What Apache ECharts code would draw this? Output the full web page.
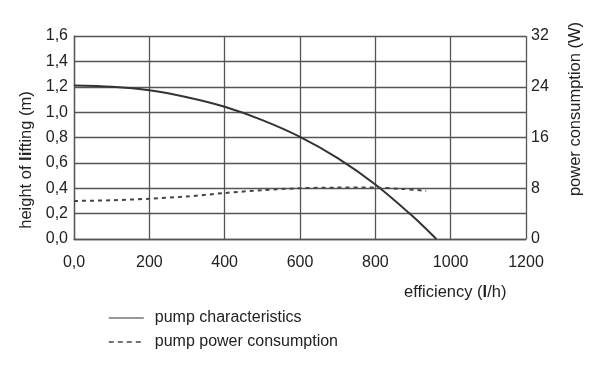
<!DOCTYPE html>
<html>
<head>
<meta charset="utf-8">
<script src="https://cdn.jsdelivr.net/npm/echarts@6/dist/echarts.min.js"></script>
<style>
  html, body { margin: 0; padding: 0; background: #fff; }
  #chart { width: 600px; height: 375px; }
</style>
</head>
<body>
<div id="chart"></div>
<script>
// pump curve (height, m)
var pumpFlow = [0, 100, 200, 300, 400, 500, 600, 700, 800, 900, 962];
var pumpHeight = [1.21, 1.20, 1.172, 1.117, 1.042, 0.937, 0.805, 0.638, 0.43, 0.177, 0];

// power consumption (W)
var powerFlow = [0, 100, 200, 300, 400, 500, 600, 700, 800, 870, 935];
var powerWatt = [6.0, 6.1, 6.35, 6.7, 7.25, 7.7, 8.0, 8.1, 8.1, 7.9, 7.6];

var seriesNames = ['pump characteristics', 'pump power consumption'];

var FONT = 'Liberation Sans, Arial, sans-serif';
var TXT = '#222';
var GRID_C = '#555';

function pairs(xs, ys) {
	var out = [];
	for (var i = 0; i < xs.length; i++) {
		out.push([xs[i], ys[i]]);
	}
	return out;
}

var chart = echarts.init(document.getElementById('chart'));

var option = {
	backgroundColor: '#fff',
	animation: false,
	textStyle: { fontFamily: FONT, color: TXT },
	grid: { left: 74, right: 74, top: 36, bottom: 136 },
	xAxis: {
		type: 'value',
		min: 0, max: 1200, interval: 200,
		axisLine: { show: true, lineStyle: { color: GRID_C, width: 1.3 } },
		axisTick: { show: false },
		splitLine: { show: true, lineStyle: { color: GRID_C, width: 1.3 } },
		axisLabel: {
			margin: 16, fontSize: 16, color: TXT, fontFamily: FONT,
			formatter: function (v) { return v === 0 ? '0,0' : String(v); }
		}
	},
	yAxis: [
		{
			type: 'value',
			min: 0, max: 1.6, interval: 0.2,
			axisLine: { show: true, lineStyle: { color: GRID_C, width: 1.3 } },
			axisTick: { show: false },
			splitLine: { show: true, lineStyle: { color: GRID_C, width: 1.3 } },
			axisLabel: {
				margin: 6, fontSize: 16, color: TXT, fontFamily: FONT,
				formatter: function (v) { return v.toFixed(1).replace('.', ','); }
			}
		},
		{
			type: 'value',
			min: 0, max: 32, interval: 4,
			axisLine: { show: false },
			axisTick: { show: false },
			splitLine: { show: false },
			axisLabel: {
				margin: 5, fontSize: 16, color: TXT, fontFamily: FONT,
				formatter: function (v) { return v % 8 === 0 ? String(v) : ''; }
			}
		}
	],
	legend: {
		orient: 'vertical',
		left: 103, top: 305,
		itemWidth: 35, itemHeight: 14, itemGap: 8,
		itemStyle: { opacity: 0 },
		textStyle: { fontSize: 16, color: TXT, fontFamily: FONT, padding: [0, 0, 0, 6] },
		data: [
			{ name: seriesNames[0], lineStyle: { width: 1.2 } },
			{ name: seriesNames[1], lineStyle: { width: 1.6, type: [5, 4] } }
		]
	},
	graphic: [
		{
			type: 'text', left: 404, top: 284,
			style: {
				text: 'efficiency ({b|l}/h)',
				font: '16.5px ' + FONT, fill: TXT,
				rich: { b: { fontWeight: 'bold', fontSize: 16.5, fontFamily: FONT, fill: TXT } }
			}
		},
		{
			type: 'text', x: 26, y: 160, rotation: Math.PI / 2,
			style: {
				text: 'height of {b|li}fting (m)',
				font: '16.5px ' + FONT, fill: TXT,
				align: 'center', verticalAlign: 'middle',
				rich: { b: { fontWeight: 'bold', fontSize: 16.5, fontFamily: FONT, fill: TXT } }
			}
		},
		{
			type: 'text', x: 575, y: 109, rotation: Math.PI / 2,
			style: {
				text: 'power consumption (W)',
				font: '16.5px ' + FONT, fill: TXT,
				align: 'center', verticalAlign: 'middle'
			}
		}
	],
	series: [
		{
			name: seriesNames[0],
			type: 'line',
			yAxisIndex: 0,
			smooth: 0.3,
			symbol: 'none',
			lineStyle: { color: '#333', width: 2 },
			itemStyle: { color: '#333' },
			data: pairs(pumpFlow, pumpHeight)
		},
		{
			name: seriesNames[1],
			type: 'line',
			yAxisIndex: 1,
			smooth: 0.3,
			symbol: 'none',
			lineStyle: { color: '#444', width: 2, type: [4, 4] },
			itemStyle: { color: '#444' },
			data: pairs(powerFlow, powerWatt)
		}
	]
};

chart.setOption(option);
</script>
</body>
</html>
